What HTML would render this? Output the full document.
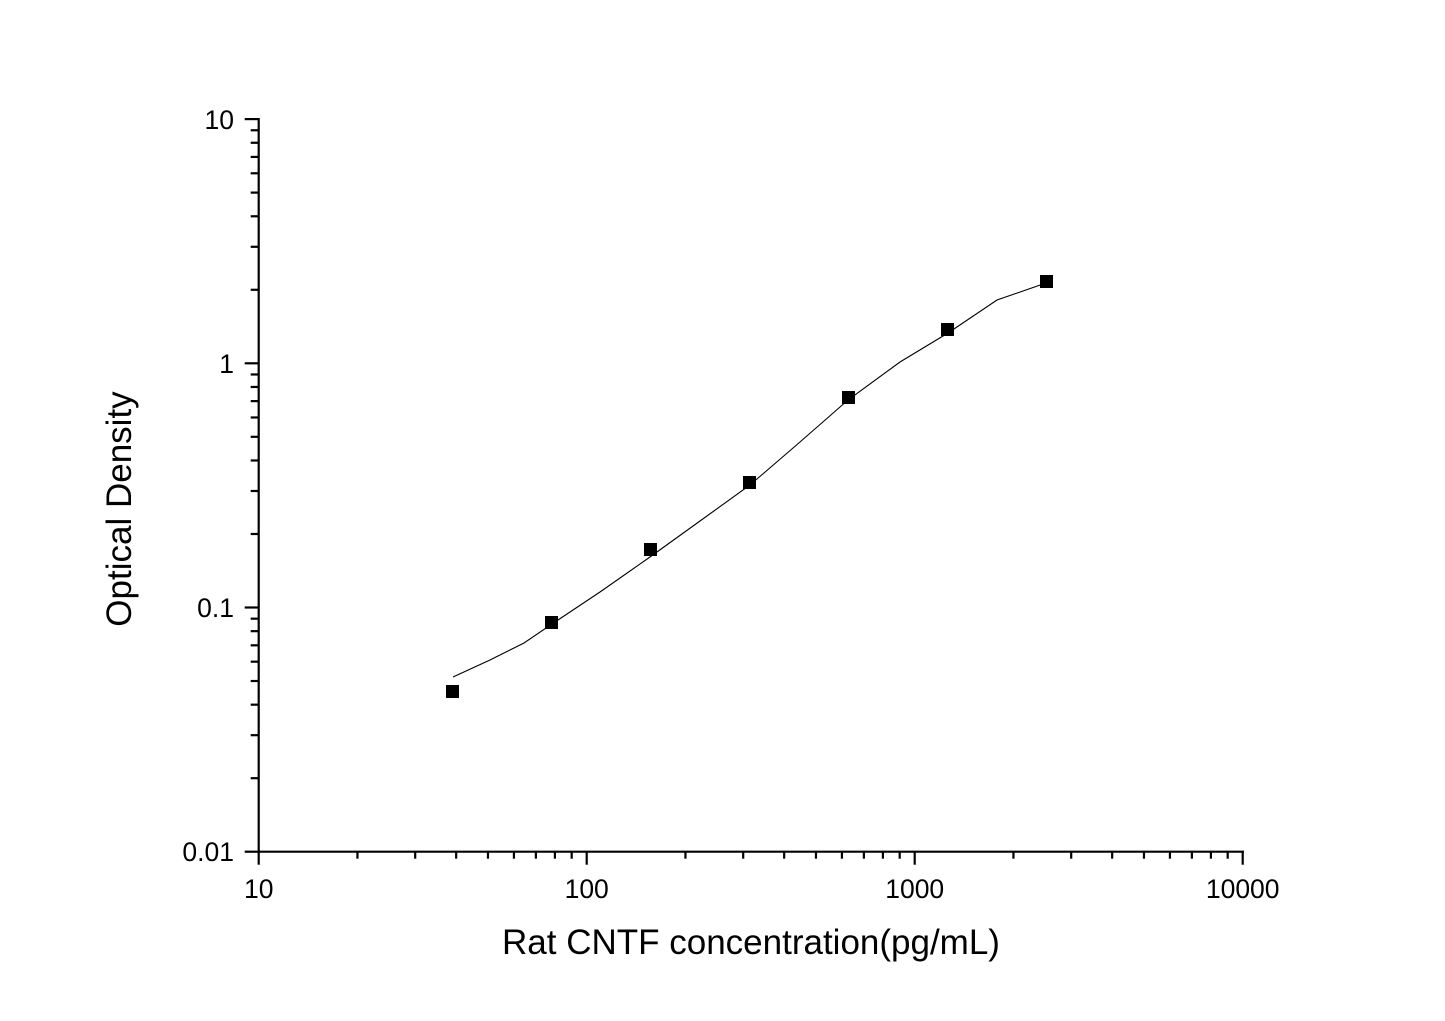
<!DOCTYPE html>
<html><head><meta charset="utf-8"><style>
html,body{margin:0;padding:0;background:#fff;}
svg{display:block;font-family:"Liberation Sans",Arial,sans-serif;}
</style></head><body>
<svg id="s" width="1445" height="1021" viewBox="0 0 1445 1021" xmlns="http://www.w3.org/2000/svg">
<rect width="1445" height="1021" fill="#fff"/>
<g id="ax" stroke="#000" stroke-width="2.2" fill="none">
<line x1="258.7" y1="118" x2="258.7" y2="852.5"/>
<line x1="257.6" y1="851.7" x2="1244" y2="851.7"/>
</g>
<g font-size="26.5" fill="#000" text-anchor="end">
<text x="234" y="129">10</text>
<text x="234" y="373">1</text>
<text x="234" y="617">0.1</text>
<text x="234" y="861">0.01</text>
</g>
<g font-size="26.5" fill="#000" text-anchor="middle">
<text x="258.7" y="898">10</text>
<text x="586.7" y="898">100</text>
<text x="914.7" y="898">1000</text>
<text x="1242.7" y="898">10000</text>
</g>
<text x="751" y="954" font-size="35" text-anchor="middle" fill="#000">Rat CNTF concentration(pg/mL)</text>
<text transform="translate(131,509) rotate(-90)" font-size="35" text-anchor="middle" fill="#000">Optical Density</text>
<polyline fill="none" stroke="#000" stroke-width="1.1" points="453,677 490,660 524,643 552,624 600,592 650,557 700,521 750,485 800,442 848,400 900,362 948,333 997,300 1046,283"/>
<g fill="#000">
<rect x="446" y="685" width="13" height="13"/>
<rect x="545" y="616" width="13" height="13"/>
<rect x="644" y="543" width="13" height="13"/>
<rect x="743" y="476" width="13" height="13"/>
<rect x="842" y="391" width="13" height="13"/>
<rect x="941" y="323" width="13" height="13"/>
<rect x="1040" y="275" width="13" height="13"/>
</g>
</svg>
<script>
(function(){
var g=document.getElementById('ax'),ns='http://www.w3.org/2000/svg';
function L(a,b,c,d){var l=document.createElementNS(ns,'line');l.setAttribute('x1',a);l.setAttribute('y1',b);l.setAttribute('x2',c);l.setAttribute('y2',d);g.appendChild(l);}
var x0=258.7,dx=328,y0=851.7,dy=244.2;
for(var d=0;d<3;d++){for(var k=1;k<10;k++){var v=Math.log10(k);
 var x=x0+(d+v)*dx; if(k==1)L(x,y0,x,y0+13);else L(x,y0,x,y0+7);
 var y=y0-(d+v)*dy; if(k==1)L(x0,y,x0-14,y);else L(x0,y,x0-8,y);}}
L(x0+3*dx,y0,x0+3*dx,y0+13);L(x0,y0-3*dy,x0-14,y0-3*dy);
})();
</script>
</body></html>
